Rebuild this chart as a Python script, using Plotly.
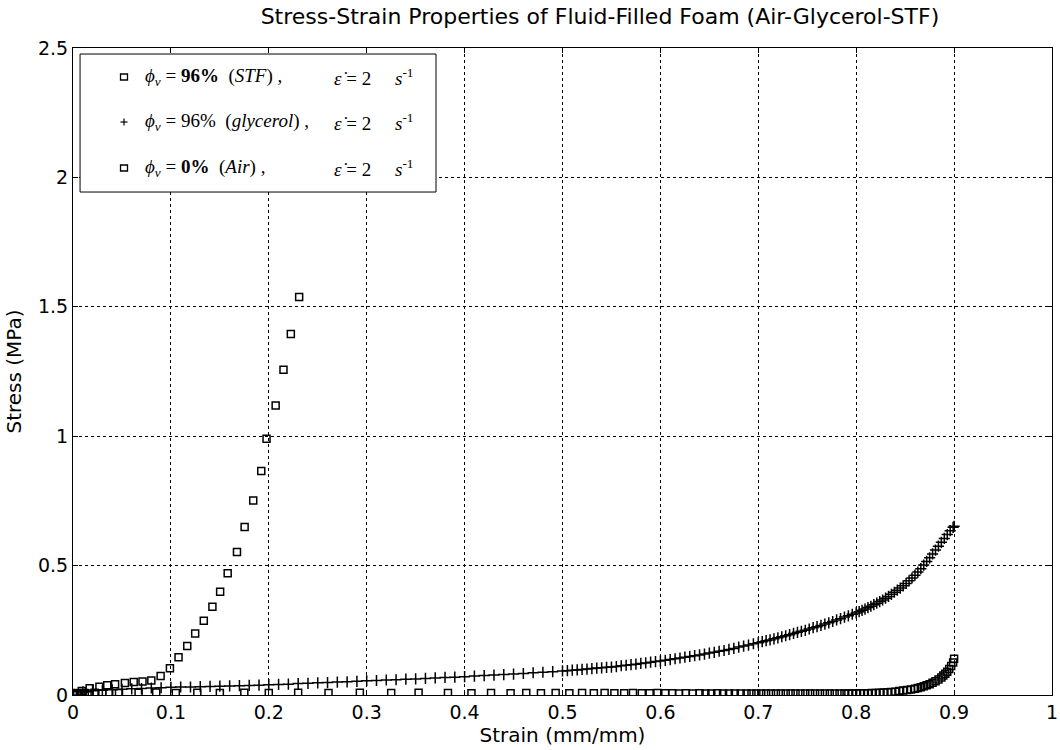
import plotly.graph_objects as go

# Fluid-filled foam, phi_v = 96% shear-thickening fluid
strain_stf = [0.000, 0.004, 0.009, 0.017, 0.027, 0.035, 0.043, 0.053, 0.062, 0.071,
              0.080, 0.0895, 0.099, 0.1078, 0.1167, 0.1248, 0.1336, 0.1424, 0.1503, 0.158,
              0.1675, 0.1753, 0.1841, 0.1923, 0.1977, 0.207, 0.215, 0.2225, 0.231]
stress_stf = [0.000, 0.008, 0.015, 0.026, 0.032, 0.038, 0.042, 0.046, 0.050, 0.052,
              0.056, 0.073, 0.103, 0.146, 0.189, 0.238, 0.287, 0.341, 0.399, 0.470,
              0.553, 0.649, 0.752, 0.866, 0.990, 1.119, 1.257, 1.395, 1.538]

# Fluid-filled foam, phi_v = 96% glycerol
strain_gly = [0.00, 0.01, 0.02, 0.03, 0.04, 0.05, 0.06, 0.07, 0.08, 0.09, 0.10,
              0.11, 0.12, 0.13, 0.14, 0.15, 0.16, 0.17, 0.18, 0.19, 0.20,
              0.21, 0.22, 0.23, 0.24, 0.25, 0.26, 0.27, 0.28, 0.29, 0.30,
              0.31, 0.32, 0.33, 0.34, 0.35, 0.36, 0.37, 0.38, 0.39, 0.40,
              0.41, 0.42, 0.43, 0.44, 0.45, 0.46, 0.47, 0.48, 0.49, 0.50,
              0.505, 0.51, 0.515, 0.52, 0.525, 0.53, 0.535, 0.54, 0.545, 0.55,
              0.555, 0.56, 0.565, 0.57, 0.575, 0.58, 0.585, 0.59, 0.595, 0.60,
              0.605, 0.61, 0.615, 0.62, 0.625, 0.63, 0.635, 0.64, 0.645, 0.65,
              0.655, 0.66, 0.665, 0.67, 0.675, 0.68, 0.685, 0.69, 0.695, 0.70,
              0.704, 0.708, 0.712, 0.716, 0.72, 0.724, 0.728, 0.732, 0.736, 0.74,
              0.744, 0.748, 0.752, 0.756, 0.76, 0.764, 0.768, 0.772, 0.776, 0.78,
              0.784, 0.788, 0.792, 0.796, 0.80,
              0.803, 0.806, 0.809, 0.812, 0.815, 0.818, 0.821, 0.824, 0.827, 0.83,
              0.833, 0.836, 0.839, 0.842, 0.845, 0.848, 0.851, 0.854, 0.857, 0.86,
              0.863, 0.866, 0.869, 0.872, 0.875, 0.878, 0.881, 0.884, 0.887, 0.89,
              0.893, 0.896, 0.899, 0.90]
stress_gly = [0.000, 0.012, 0.016, 0.018, 0.020, 0.022, 0.024, 0.025, 0.027, 0.028, 0.030,
              0.031, 0.031, 0.032, 0.033, 0.034, 0.035, 0.036, 0.037, 0.038, 0.040,
              0.041, 0.042, 0.044, 0.045, 0.047, 0.048, 0.050, 0.051, 0.053, 0.055,
              0.056, 0.058, 0.059, 0.061, 0.062, 0.064, 0.066, 0.068, 0.069, 0.071,
              0.073, 0.075, 0.077, 0.079, 0.081, 0.083, 0.086, 0.088, 0.090, 0.093,
              0.094, 0.096, 0.097, 0.099, 0.100, 0.102, 0.104, 0.105, 0.107, 0.108,
              0.110, 0.113, 0.115, 0.117, 0.119, 0.122, 0.124, 0.127, 0.129, 0.131,
              0.134, 0.137, 0.140, 0.143, 0.146, 0.149, 0.152, 0.155, 0.158, 0.162,
              0.165, 0.169, 0.172, 0.176, 0.180, 0.185, 0.189, 0.193, 0.198, 0.202,
              0.206, 0.210, 0.213, 0.217, 0.221, 0.225, 0.229, 0.233, 0.238, 0.242,
              0.246, 0.250, 0.255, 0.260, 0.264, 0.269, 0.274, 0.279, 0.284, 0.290,
              0.295, 0.301, 0.306, 0.312, 0.317,
              0.322, 0.327, 0.332, 0.338, 0.343, 0.349, 0.355, 0.361, 0.367, 0.374,
              0.381, 0.389, 0.397, 0.405, 0.413, 0.422, 0.431, 0.441, 0.452, 0.463,
              0.475, 0.488, 0.502, 0.516, 0.530, 0.545, 0.560, 0.575, 0.590, 0.605,
              0.620, 0.635, 0.648, 0.652]

# Unfilled foam, phi_v = 0% (air)
strain_air = [0.000, 0.004, 0.008, 0.012, 0.017, 0.022, 0.030, 0.037, 0.047, 0.067,
              0.085, 0.105, 0.127, 0.150, 0.175, 0.200, 0.230, 0.261, 0.293, 0.325,
              0.353, 0.383, 0.407, 0.427, 0.447, 0.463, 0.478, 0.493, 0.507, 0.520,
              0.532, 0.543, 0.553, 0.563, 0.572, 0.581, 0.589, 0.597, 0.605, 0.612,
              0.619, 0.626, 0.633, 0.640, 0.646, 0.652, 0.658, 0.664, 0.670, 0.676,
              0.682, 0.688, 0.693, 0.698, 0.703, 0.708, 0.713, 0.718, 0.723, 0.728,
              0.733, 0.738, 0.743, 0.748, 0.753, 0.758, 0.763, 0.768, 0.773, 0.778,
              0.783, 0.788, 0.792, 0.796, 0.800, 0.804, 0.808, 0.812, 0.816, 0.820,
              0.824, 0.828, 0.832, 0.836, 0.840, 0.844, 0.848, 0.852, 0.856, 0.860,
              0.863, 0.866, 0.869, 0.872, 0.875, 0.878, 0.881, 0.884, 0.887, 0.889,
              0.891, 0.893, 0.895, 0.897, 0.899, 0.900]
stress_air = [0.000, 0.004, 0.006, 0.008, 0.006, 0.009, 0.007, 0.010, 0.008, 0.009,
              0.010, 0.008, 0.009, 0.008, 0.009, 0.008, 0.009, 0.008, 0.009, 0.008,
              0.009, 0.008, 0.007, 0.008, 0.007, 0.008, 0.007, 0.008, 0.007, 0.008,
              0.007, 0.008, 0.007, 0.007, 0.008, 0.007, 0.007, 0.008, 0.007, 0.007,
              0.006, 0.007, 0.006, 0.007, 0.006, 0.006, 0.007, 0.006, 0.006, 0.006,
              0.006, 0.006, 0.006, 0.006, 0.006, 0.006, 0.006, 0.006, 0.006, 0.006,
              0.006, 0.006, 0.006, 0.006, 0.006, 0.006, 0.006, 0.006, 0.006, 0.006,
              0.006, 0.006, 0.006, 0.006, 0.006, 0.007, 0.007, 0.007, 0.008, 0.008,
              0.009, 0.010, 0.011, 0.012, 0.013, 0.015, 0.017, 0.019, 0.021, 0.024,
              0.027, 0.030, 0.034, 0.038, 0.042, 0.047, 0.053, 0.060, 0.068, 0.075,
              0.082, 0.090, 0.100, 0.112, 0.126, 0.140]

# Legend entries: (marker symbol, condition text, strain-rate text)
rate_text = "<i>\u03b5\u0307</i> = 2     <i>s</i><sup>-1</sup>"
legend_rows = [
    ("square", "<i>\u03d5</i><sub><i>v</i></sub> = <b>96%</b>  (<i>STF</i>) ,", rate_text),
    ("plus", "<i>\u03d5</i><sub><i>v</i></sub> = 96%  (<i>glycerol</i>) ,", rate_text),
    ("square", "<i>\u03d5</i><sub><i>v</i></sub> = <b>0%</b>  (<i>Air</i>) ,", rate_text),
]

SANS = "DejaVu Sans, Liberation Sans, Arial"
SERIF = "Liberation Serif, Times New Roman, serif"

sq_marker = dict(symbol="square-open", size=7, color="black", line=dict(width=1.5, color="black"))
plus_marker = dict(symbol="cross-thin-open", size=8, color="black", line=dict(width=1.5, color="black"))

fig = go.Figure()
fig.add_trace(go.Scatter(x=strain_stf, y=stress_stf, mode="markers", marker=sq_marker,
                         name="STF", showlegend=False))
fig.add_trace(go.Scatter(x=strain_gly, y=stress_gly, mode="markers", marker=plus_marker,
                         name="glycerol", showlegend=False))
fig.add_trace(go.Scatter(x=strain_air, y=stress_air, mode="markers", marker=sq_marker,
                         name="Air", showlegend=False))

axis_common = dict(
    showline=True, linecolor="black", linewidth=1, mirror="ticks",
    ticks="inside", ticklen=5, tickcolor="black",
    showgrid=True, gridcolor="black", gridwidth=1, griddash="3px,3px",
    zeroline=False, ticklabeloverflow="allow",
    tickfont=dict(family=SANS, size=19, color="black"),
    automargin=False,
)

fig.update_xaxes(
    range=[0, 1], dtick=0.1, tick0=0,
    title=dict(text="Strain (mm/mm)", font=dict(family=SANS, size=20, color="black"), standoff=4),
    **axis_common,
)
fig.update_yaxes(
    range=[0, 2.5], dtick=0.5, tick0=0,
    title=dict(text="Stress (MPa)", font=dict(family=SANS, size=20, color="black"), standoff=10),
    **axis_common,
)

# Boxed legend in the upper-left corner of the axes
box = dict(x0=0.0072, x1=0.3708, y0=0.7774, y1=0.9907)
shapes = [dict(type="rect", xref="paper", yref="paper", layer="above",
               fillcolor="white", line=dict(color="black", width=1), **box)]
annotations = []
row_y = [0.9552, 0.8856, 0.8145]
marker_x = 0.0521
for (kind, left_text, right_text), ry in zip(legend_rows, row_y):
    if kind == "square":
        shapes.append(dict(type="rect", xref="paper", yref="paper", layer="above",
                           xsizemode="pixel", ysizemode="pixel",
                           xanchor=marker_x, yanchor=ry, x0=-3.5, x1=3.5, y0=-3, y1=3,
                           line=dict(color="black", width=1.3), fillcolor="rgba(0,0,0,0)"))
    else:
        shapes.append(dict(type="line", xref="paper", yref="paper", layer="above",
                           xsizemode="pixel", ysizemode="pixel",
                           xanchor=marker_x, yanchor=ry, x0=-3.5, x1=3.5, y0=0, y1=0,
                           line=dict(color="black", width=1.2)))
        shapes.append(dict(type="line", xref="paper", yref="paper", layer="above",
                           xsizemode="pixel", ysizemode="pixel",
                           xanchor=marker_x, yanchor=ry, x0=0, x1=0, y0=-3.5, y1=3.5,
                           line=dict(color="black", width=1.2)))
    annotations.append(dict(xref="paper", yref="paper", x=0.0715, y=ry, xanchor="left",
                            yanchor="middle", text=left_text, showarrow=False,
                            font=dict(family=SERIF, size=19, color="black")))
    annotations.append(dict(xref="paper", yref="paper", x=0.2646, y=ry, xanchor="left",
                            yanchor="middle", text=right_text, showarrow=False,
                            font=dict(family=SERIF, size=19, color="black")))

fig.update_layout(
    width=1060, height=750,
    margin=dict(l=73, r=8, t=48, b=55),
    paper_bgcolor="white", plot_bgcolor="white",
    title=dict(
        text="Stress-Strain Properties of Fluid-Filled Foam (Air-Glycerol-STF)",
        font=dict(family=SANS, size=22, color="black"),
        x=0.566, xanchor="center", y=0.978, yanchor="middle",
    ),
    shapes=shapes,
    annotations=annotations,
    showlegend=False,
)

fig.write_html("out.html")
